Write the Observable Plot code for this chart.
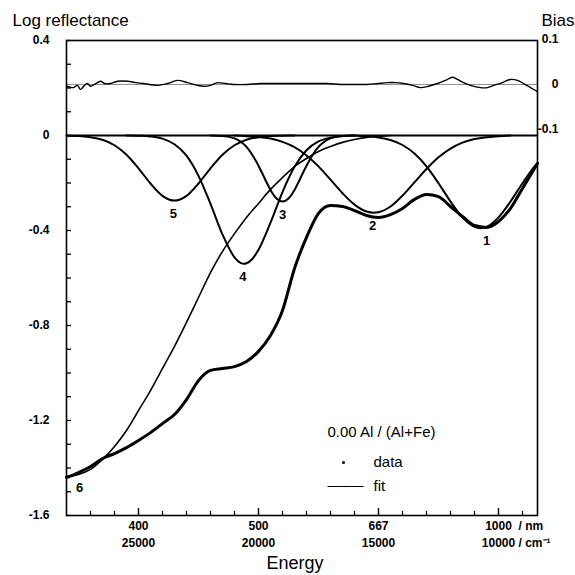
<!DOCTYPE html>
<html><head><meta charset="utf-8">
<script src="https://cdn.jsdelivr.net/npm/d3@7"></script>
<script src="https://cdn.jsdelivr.net/npm/@observablehq/plot@0.6"></script>
<style>
body{margin:0;background:#fff;}
svg{font-family:"Liberation Sans",Arial,sans-serif;}
</style>
</head><body><div id="chart"></div>
<script>
// Energy axis (cm^-1) ticks and labels
const xMajorTicks = [25000, 20000, 15000, 10000];
const xMajorLabels = ["400\n25000", "500\n20000", "667\n15000", "1000\n10000"];
const xMinorTicks = [27000, 26000, 24000, 23000, 22000, 21000, 19000, 18000, 17000, 16000, 14000, 13000, 12000, 11000, 9000];
const yMajorTicks = [-1.6, -1.2, -0.8, -0.4, 0, 0.4];
const yMinorTicks = [-1.5, -1.4, -1.3, -1.1, -1.0, -0.9, -0.7, -0.6, -0.5, -0.3, -0.2, -0.1, 0.1, 0.2, 0.3];
const biasTicks = [0.1, 0, -0.1];

// Measured spectrum (data + fit), log reflectance
const totalW = [28000,27500,27000,26500,26000,25500,25000,24500,24000,23500,23000,22500,22000,21500,21000,20500,20000,19500,19000,18500,18000,17500,17000,16500,16000,15500,15000,14500,14000,13500,13000,12500,12000,11500,11000,10500,10000,9500,9000,8500,8375];
const totalV = [-1.44,-1.419,-1.394,-1.36,-1.339,-1.314,-1.284,-1.251,-1.213,-1.175,-1.112,-1.032,-0.989,-0.981,-0.973,-0.952,-0.909,-0.842,-0.737,-0.56,-0.429,-0.328,-0.295,-0.299,-0.316,-0.337,-0.345,-0.333,-0.307,-0.269,-0.248,-0.257,-0.299,-0.341,-0.379,-0.387,-0.362,-0.307,-0.223,-0.139,-0.118];

// Component bands
const band1W = [16000,15500,15000,14500,14000,13500,13000,12500,12000,11500,11000,10750,10500,10000,9500,9000,8500,8375];
const band1V = [0,-0.003,-0.008,-0.019,-0.040,-0.076,-0.130,-0.201,-0.278,-0.345,-0.385,-0.390,-0.385,-0.345,-0.278,-0.201,-0.130,-0.115];
const band2W = [21000,20500,20000,19500,19000,18500,18000,17500,17000,16500,16000,15500,15200,15000,14500,14000,13500,13000,12500,12000,11500,11000,10500,10000,9500];
const band2V = [0,-0.003,-0.006,-0.013,-0.027,-0.049,-0.084,-0.130,-0.186,-0.243,-0.291,-0.320,-0.325,-0.323,-0.299,-0.253,-0.197,-0.141,-0.092,-0.055,-0.030,-0.015,-0.007,-0.003,0];
const band3W = [22000,21500,21000,20500,20000,19750,19500,19250,19000,18750,18500,18250,18000,17500,17000,16500,16000];
const band3V = [0,-0.002,-0.012,-0.048,-0.127,-0.179,-0.229,-0.265,-0.278,-0.265,-0.229,-0.179,-0.127,-0.048,-0.012,-0.002,0];
const band4W = [25500,25000,24500,24000,23500,23000,22500,22000,21500,21000,20750,20600,20500,20250,20000,19500,19000,18500,18000,17500,17000,16500,16000];
const band4V = [0,-0.001,-0.004,-0.013,-0.037,-0.085,-0.170,-0.288,-0.417,-0.513,-0.536,-0.540,-0.538,-0.519,-0.481,-0.367,-0.238,-0.132,-0.062,-0.025,-0.009,-0.002,0];
const band5W = [28000,27500,27000,26500,26000,25500,25000,24500,24000,23500,23000,22500,22000,21500,21000,20500,20000,19500,19000,18500];
const band5V = [-0.001,-0.002,-0.007,-0.018,-0.041,-0.081,-0.138,-0.202,-0.254,-0.274,-0.254,-0.202,-0.138,-0.081,-0.041,-0.018,-0.007,-0.002,-0.001,0];
const band6W = [28000,27500,27000,26500,26000,25500,25000,24500,24000,23500,23000,22500,22000,21500,21000,20500,20000,19500,19000,18500,18000,17500,17000,16500,16000,15500,15000,14500];
const band6V = [-1.436,-1.427,-1.406,-1.364,-1.309,-1.242,-1.158,-1.074,-0.981,-0.888,-0.787,-0.682,-0.577,-0.488,-0.413,-0.345,-0.286,-0.227,-0.177,-0.131,-0.097,-0.067,-0.046,-0.029,-0.017,-0.008,-0.004,0];

// Band labels
const bandNames = ["1","2","3","4","5","6"];
const bandLabelW = [10500, 15250, 19000, 20650, 23550, 27450];
const bandLabelV = [-0.39, -0.325, -0.278, -0.54, -0.274, -1.427];

// Bias (residual) curve
const biasW = [28000,27708,27542,27417,27250,27125,27000,26833,26583,26417,26167,25875,25458,25125,24792,24208,23792,23375,22958,22542,22292,22000,21708,21375,21042,20458,19917,19208,18542,17833,17125,16583,16167,15458,15042,14625,14292,13958,13583,13250,12917,12542,12208,11917,11708,11458,11167,10750,10458,10208,9833,9500,9208,8958,8667,8375];
const biasV = [-0.004,-0.007,-0.002,-0.011,-0.002,0.002,-0.004,0,0.007,0.002,0.002,0.007,0.007,0.004,0.002,-0.002,0.002,0.009,0.004,-0.002,-0.004,-0.002,0.004,0.002,0,0,0.002,0.002,0.002,0.002,0.002,0,0,0,0.002,0.004,0.004,0.002,-0.002,-0.007,-0.004,0.002,0.009,0.016,0.011,0.004,-0.002,-0.007,-0.007,-0.002,0.004,0.011,0.009,0.002,-0.007,-0.016];

const biasToY = b => 0.215 + 1.9 * b;
const rows = (w, v) => w.map((x, i) => ({x, y: v[i]}));
const bands = [[band1W,band1V],[band2W,band2V],[band3W,band3V],[band4W,band4V],[band5W,band5V]];

const W = 575, H = 575, mL = 66, mR = 38, mT = 40, mB = 60;
const fw = W - mL - mR;
const fh = H - mT - mB;

const plot = Plot.plot({
  width: W, height: H,
  marginLeft: mL, marginRight: mR, marginTop: mT, marginBottom: mB,
  style: {fontFamily: "'Liberation Sans', Arial, sans-serif", background: "#fff", color: "#000"},
  x: {domain: [28000, 8375], axis: null},
  y: {domain: [-1.6, 0.4], axis: null},
  marks: [
    // bias zero line
    Plot.ruleY([0], {y: d => biasToY(d), stroke: "#8c8c8c", strokeWidth: 1}),
    // baseline
    Plot.ruleY([0], {stroke: "#000", strokeWidth: 2}),
    // inward ticks
    Plot.ruleY(yMajorTicks, {y: d => d, insetRight: fw - 5, stroke: "#000", strokeWidth: 1.3}),
    Plot.ruleY(yMinorTicks, {y: d => d, insetRight: fw - 5, stroke: "#000", strokeWidth: 1.3}),
    Plot.ruleX(xMajorTicks, {x: d => d, insetTop: fh - 7, stroke: "#000", strokeWidth: 1.4}),
    Plot.ruleX(xMinorTicks, {x: d => d, insetTop: fh - 4, stroke: "#000", strokeWidth: 1.2}),
    // axis labels
    Plot.axisY({ticks: yMajorTicks, tickSize: 0, tickPadding: 17, tickFormat: d => d === 0 ? "0" : d.toFixed(1), fontSize: 12, fontWeight: "bold", label: null}),
    Plot.axisX({ticks: xMajorTicks, tickSize: 0, tickPadding: 3, tickFormat: d => xMajorLabels[xMajorTicks.indexOf(d)], fontSize: 12, fontWeight: "bold", lineHeight: 1.4, label: null}),
    Plot.text(["/ nm\n/ cm\u207B\u00B9"], {x: () => xMajorTicks[3], frameAnchor: "bottom", dx: 20, dy: 3, lineAnchor: "top", lineHeight: 1.4, textAnchor: "start", fontSize: 12, fontWeight: "bold"}),
    Plot.text(biasTicks, {y: d => biasToY(d), frameAnchor: "right", dx: 21, text: d => d === 0 ? "0" : d.toFixed(1), fontSize: 12, fontWeight: "bold"}),
    // component bands
    ...bands.map(([w, v]) => Plot.line(rows(w, v), {x: "x", y: "y", curve: "monotone-x", stroke: "#000", strokeWidth: 2})),
    Plot.line(rows(band6W, band6V), {x: "x", y: "y", curve: "monotone-x", stroke: "#000", strokeWidth: 1.6}),
    // measured spectrum + fit
    Plot.line(rows(totalW, totalV), {x: "x", y: "y", curve: "monotone-x", stroke: "#000", strokeWidth: 3}),
    // bias curve
    Plot.line(rows(biasW, biasV), {x: "x", y: d => biasToY(d.y), curve: "catmull-rom", stroke: "#000", strokeWidth: 1.4}),
    // band numbers
    Plot.text(bandNames, {x: (d, i) => bandLabelW[i], y: (d, i) => bandLabelV[i], dy: 13, fontSize: 13, fontWeight: "bold"}),
    Plot.frame({stroke: "#000", strokeWidth: 1.6}),
    // titles
    Plot.text(["Log reflectance"], {frameAnchor: "top-left", dx: -54, dy: -20, lineAnchor: "middle", textAnchor: "start", fontSize: 17}),
    Plot.text(["Bias"], {frameAnchor: "top-right", dx: 4, dy: -20, lineAnchor: "middle", textAnchor: "start", fontSize: 17}),
    Plot.text(["Energy"], {frameAnchor: "bottom", dx: -7, dy: 48, lineAnchor: "middle", fontSize: 18}),
    // legend
    Plot.text(["0.00 Al / (Al+Fe)"], {frameAnchor: "bottom-left", dx: 261, dy: -83, lineAnchor: "middle", textAnchor: "start", fontSize: 15}),
    Plot.dot([0], {frameAnchor: "bottom-left", dx: 277, dy: -53, r: 1.5, fill: "#000", stroke: null}),
    Plot.text(["data"], {frameAnchor: "bottom-left", dx: 307, dy: -53, lineAnchor: "middle", textAnchor: "start", fontSize: 15}),
    Plot.text(["\u2014\u2014\u2014"], {frameAnchor: "bottom-left", dx: 261, dy: -29, lineAnchor: "middle", textAnchor: "start", fontSize: 12}),
    Plot.text(["fit"], {frameAnchor: "bottom-left", dx: 307, dy: -29, lineAnchor: "middle", textAnchor: "start", fontSize: 15})
  ]
});
document.getElementById("chart").appendChild(plot);
</script>
</body></html>
